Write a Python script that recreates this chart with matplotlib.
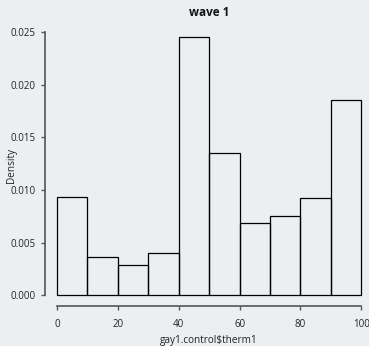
import matplotlib
matplotlib.use("Agg")
import matplotlib.pyplot as plt
import numpy as np

bin_edges = [0, 10, 20, 30, 40, 50, 60, 70, 80, 90, 100]
density = [0.00934, 0.00361, 0.00291, 0.00399, 0.02452, 0.01355, 0.00687, 0.00757, 0.00925, 0.01856]
x_ticks = [0, 20, 40, 60, 80, 100]
y_ticks = [0.000, 0.005, 0.010, 0.015, 0.020, 0.025]
y_tick_labels = ["0.000", "0.005", "0.010", "0.015", "0.020", "0.025"]

bg = "#ECEFF1"
plt.rcParams['font.family'] = ['Open Sans', 'DejaVu Sans']

fig = plt.figure(figsize=(3.69, 3.46), dpi=100, facecolor=bg)
W, H = 369, 346
left, right, top, bottom = 44.8, 373.5, 26.7, 305.6
ax = fig.add_axes([left / W, 1 - bottom / H, (right - left) / W, (bottom - top) / H])
ax.set_facecolor(bg)

edges = np.array(bin_edges)
ax.bar(edges[:-1], density, width=np.diff(edges), align='edge',
       facecolor='none', edgecolor='black', linewidth=0.9)

ax.set_xlim(-4, 104)
ax.set_ylim(-0.00098, 0.02550)
ax.set_xticks(x_ticks)
ax.set_xticklabels([str(v) for v in x_ticks])
ax.set_yticks(y_ticks)
ax.set_yticklabels(y_tick_labels)

for s in ['top', 'right']:
    ax.spines[s].set_visible(False)
ax.spines['left'].set_bounds(0, 0.025)
ax.spines['bottom'].set_bounds(0, 100)
for s in ['left', 'bottom']:
    ax.spines[s].set_color('#555555')
    ax.spines[s].set_linewidth(1.2)
ax.tick_params(axis='both', direction='out', length=3, width=1.0, color='#555555',
               labelsize=7, labelcolor='#222222')
ax.tick_params(axis='x', pad=6.3)
ax.tick_params(axis='y', pad=3.8)

cx = (left + min(right, W + 4.7)) / 2
cx = 209.0
fig.text(cx / W, 1 - 13 / H, "wave 1", fontsize=8.5, fontweight='bold', color='#111111',
         ha='center', va='center')
fig.text(cx / W, 1 - 340.5 / H, "gay1.control\\$therm1", fontsize=7.2, color='#222222',
         ha='center', va='center')
fig.text(11.5 / W, 1 - 166 / H, "Density", fontsize=7.2, color='#222222',
         ha='center', va='center', rotation=90)

fig.savefig("out.png", dpi=100, facecolor=bg)
